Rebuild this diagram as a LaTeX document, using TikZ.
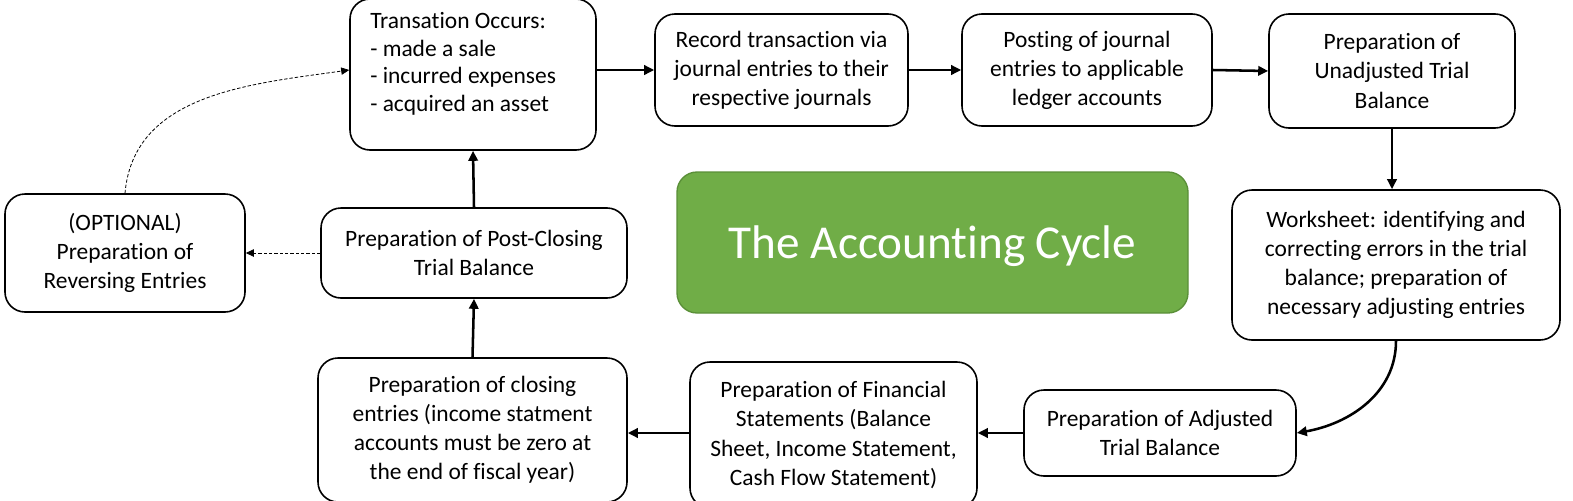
\documentclass[tikz,border=0pt]{standalone}
\usepackage{fontspec}
\setmainfont[Ligatures=NoCommon]{Carlito}
\usetikzlibrary{arrows.meta}
\definecolor{cgreen}{HTML}{70AD47}
\definecolor{cgreenb}{HTML}{5A8F38}
\begin{document}
\begin{tikzpicture}[x=0.75pt,y=-0.75pt,
  box/.style={draw=black, line width=1.2pt, rounded corners=15pt, fill=white,
    font=\fontsize{17.6}{21.8}\selectfont, align=center, inner sep=0pt},
  txt/.style={font=\fontsize{17.6}{20.8}\selectfont, align=left, inner sep=0pt},
  flow/.style={line width=1.9pt, -{Triangle[length=7.5pt,width=7pt]}},
  opt/.style={line width=0.6pt, dash pattern=on 2.5pt off 1.5pt, -{Triangle[length=6pt,width=5.5pt]}}]
\useasboundingbox (0,0) rectangle (1573,500);
\node[box, minimum width=184.5pt, minimum height=113.25pt] (trans) at (473,74.5) {};
\node[txt, anchor=north west] (transtext) at (370,12)
  {Transation Occurs:\\- made a sale\\- incurred expenses\\- acquired an asset};
\node[box, minimum width=189.75pt, minimum height=84pt] (record) at (781.5,70)
  {Record transaction via\\journal entries to their\\respective journals};
\node[box, minimum width=187.5pt, minimum height=84pt] (posting) at (1087,70)
  {Posting of journal\\entries to applicable\\ledger accounts};
\node[box, minimum width=184.5pt, minimum height=85.5pt] (unadj) at (1392,71)
  {Preparation of\\Unadjusted Trial\\Balance};
\node[box, minimum width=246pt, minimum height=112.5pt] (ws) at (1396,265)
  {Worksheet: identifying and\\correcting errors in the trial\\balance; preparation of\\necessary adjusting entries};
\node[box, minimum width=204pt, minimum height=64.5pt] (adj) at (1160,433)
  {Preparation of Adjusted\\Trial Balance};
\node[box, minimum width=215.25pt, minimum height=109.5pt] (fin) at (833.5,435)
  {Preparation of Financial\\Statements (Balance\\Sheet, Income Statement,\\Cash Flow Statement)};
\node[box, minimum width=231.75pt, minimum height=108pt] (closing) at (472.5,430)
  {Preparation of closing\\entries (income statment\\accounts must be zero at\\the end of fiscal year)};
\node[box, minimum width=229.5pt, minimum height=67.5pt] (post) at (474,253)
  {Preparation of Post-Closing\\Trial Balance};
\node[box, minimum width=180pt, minimum height=88.5pt] (optnode) at (125,253)
  {(OPTIONAL)\\Preparation of\\Reversing Entries};
\node[draw=cgreenb, line width=1pt, fill=cgreen, rounded corners=15pt,
  minimum width=383.25pt, minimum height=105.75pt, text=white, text depth=0pt,
  font=\fontsize{35.4}{42}\selectfont] (title) at (932.5,242.5) {The Accounting Cycle};
% connectors
\draw[flow] (trans.east |- record.west) -- (record.west);
\draw[flow] (record.east |- posting.west) -- (posting.west);
\draw[flow] (posting.east) -- (unadj.west);
\draw[flow] (unadj.south) -- (unadj.south |- ws.north);
\draw[flow] (ws.south) to[out=-90,in=10] (adj.east);
\draw[flow] (adj.west) -- (adj.west -| fin.east);
\draw[flow] (adj.west -| fin.west) -- (adj.west -| closing.east);
\draw[flow] (closing.north) -- (post.south);
\draw[flow] (post.north) -- (trans.south);
\draw[opt] (post.west) -- (optnode.east);
\draw[opt] (optnode.north) to[out=85,in=188] (trans.west |- record.west);
\end{tikzpicture}
\end{document}
